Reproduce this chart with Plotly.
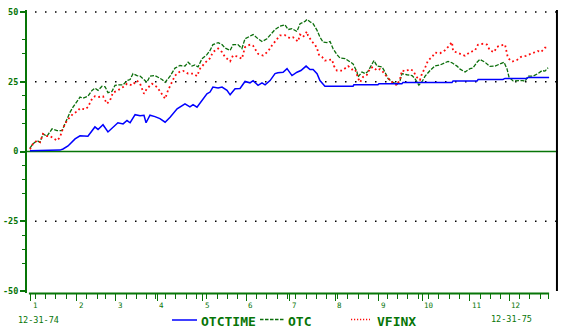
import numpy as np
import pandas as pd
import plotly.graph_objects as go

# ---------------- data (trading-day index since 12-31-74, % change) ----------------
otctime_day = [0.5, 7.8, 15.0, 16.5, 18.9, 22.3, 24.7, 28.5, 30.5, 31.9, 33.4, 35.8, 38.2, 40.6,
               43.0, 45.5, 47.4, 48.9, 51.3, 53.7, 55.6, 56.6, 58.5, 60.9, 63.3, 65.8, 68.2, 71.6,
               74.0, 75.4, 77.8, 79.3, 81.2, 83.6, 86.0, 87.5, 88.9, 91.4, 93.3, 95.7, 97.2, 99.6,
               102.0, 104.4, 106.8, 108.3, 110.7, 112.6, 114.1, 116.5, 118.9, 120.3, 122.8, 124.7,
               127.1, 129.5, 131.4, 133.9, 135.8, 137.3, 139.2, 140.6, 143.0, 156.6, 157.0, 168.6,
               169.1, 180.2, 180.7, 204.4, 204.9, 216.5, 217.0, 229.0, 230.0, 240.6, 241.1, 251.3]
otctime_val = [0.3, 0.3, 0.5, 0.9, 2.0, 4.5, 5.6, 5.5, 7.7, 8.8, 7.9, 9.6, 7.0, 8.7,
               10.3, 9.9, 11.1, 10.3, 13.2, 12.8, 13.0, 10.3, 13.0, 12.5, 11.8, 10.5, 12.3, 15.3,
               16.5, 17.1, 16.0, 16.8, 15.9, 18.3, 20.7, 21.3, 23.1, 22.8, 23.1, 21.9, 20.3, 22.5,
               22.6, 25.1, 24.6, 25.4, 23.7, 24.6, 23.9, 25.4, 27.9, 28.2, 28.4, 29.7,
               27.2, 28.4, 29.0, 30.6, 29.4, 29.4, 27.9, 25.4, 23.4, 23.4, 23.9, 23.9,
               24.3, 24.3, 24.7, 24.7, 25.3, 25.3, 25.8, 25.8, 26.2, 26.2, 26.5, 26.5]

otc_day = [0.5, 2.0, 3.9, 5.4, 6.8, 8.7, 11.2, 13.6, 16.0, 17.0, 18.4, 19.9, 21.3, 23.2, 24.7,
           26.1, 28.5, 30.5, 31.9, 33.4, 35.3, 36.8, 38.2, 40.1, 41.6, 43.5, 45.5, 47.4, 48.9,
           50.3, 52.2, 53.7, 55.1, 57.0, 58.5, 60.9, 62.4, 64.3, 65.8, 68.2, 70.6, 73.0, 75.4,
           76.9, 78.8, 80.2, 81.7, 83.6, 86.0, 87.5, 88.9, 91.4, 93.3, 94.7, 97.2, 98.6, 101.0,
           102.9, 104.4, 105.9, 108.3, 110.7, 112.6, 115.0, 116.5, 118.9, 121.3, 123.7, 125.2,
           127.1, 129.5, 131.0, 133.4, 134.3, 135.8, 137.3, 139.2, 140.6, 142.1, 144.0, 145.5,
           146.9, 148.8, 150.3, 152.7, 155.1, 156.6, 158.5, 159.0, 160.9, 162.4, 163.8, 165.8,
           166.7, 168.2, 170.6, 172.0, 173.5, 175.9, 177.8, 179.3, 180.2, 182.6, 185.1, 186.5,
           188.4, 189.9, 191.4, 193.8, 196.2, 198.6, 200.0, 202.5, 204.4, 206.8, 208.3, 210.7,
           213.1, 214.5, 216.5, 217.9, 220.3, 222.7, 225.2, 227.6, 229.5, 231.0, 231.9, 233.9,
           236.3, 238.7, 239.7, 241.1, 243.5, 245.9, 247.9, 249.3, 250.8]
otc_val = [1.2, 2.8, 3.9, 3.3, 6.3, 5.5, 8.1, 7.5, 7.5, 9.3, 11.7, 14.1, 15.9, 17.7, 19.5,
           19.1, 19.8, 21.9, 22.7, 21.9, 23.4, 23.2, 21.1, 21.5, 23.7, 23.9, 23.9, 25.4, 25.8,
           27.9, 27.2, 27.0, 26.1, 24.8, 27.0, 27.2, 26.6, 25.8, 24.8, 27.0, 29.9, 30.8, 30.6,
           32.0, 30.6, 31.0, 30.3, 33.2, 34.7, 36.2, 38.3, 39.0, 38.3, 37.1, 36.2, 38.3, 38.3,
           36.9, 40.4, 41.0, 41.9, 40.4, 39.4, 40.4, 41.6, 43.7, 44.9, 45.4, 43.7,
           44.0, 43.0, 45.8, 46.6, 47.3, 46.5, 45.8, 43.4, 41.0, 39.2, 39.0, 39.4,
           36.9, 34.7, 33.5, 33.3, 32.0, 31.4, 28.5, 26.7, 28.5, 27.9, 28.7, 31.8,
           32.6, 30.6, 30.3, 28.5, 26.1, 24.8, 24.0, 25.4, 27.9, 27.5, 27.2, 26.1,
           23.8, 25.0, 27.0, 29.0, 30.7, 31.0, 31.4, 32.3, 31.8, 30.6, 29.5, 28.5,
           29.7, 29.9, 32.0, 33.0, 32.0, 30.5, 30.6, 31.4, 32.0, 29.5, 26.7, 25.3,
           25.4, 25.4, 25.1, 27.0, 27.0, 27.9, 29.0, 28.8, 30.0]

vfinx_day = [0.5, 2.0, 3.9, 5.4, 6.8, 8.7, 10.2, 11.6, 13.6, 15.0, 16.5, 18.4, 19.9, 21.3, 23.2,
             24.7, 27.1, 28.5, 30.5, 31.9, 33.4, 35.8, 37.7, 39.2, 40.6, 43.0, 45.5, 47.4, 49.8,
             52.2, 53.7, 55.6, 57.0, 59.5, 61.9, 63.3, 64.8, 65.8, 67.2, 69.1, 70.6, 73.0, 74.5,
             76.9, 79.3, 81.2, 82.7, 85.1, 87.5, 88.9, 91.4, 93.3, 94.7, 97.2, 98.6, 101.0, 102.9,
             104.4, 106.8, 108.3, 110.7, 113.1, 115.5, 117.4, 119.8, 121.3, 123.7, 126.1, 127.6,
             130.0, 131.0, 132.4, 134.3, 134.8, 136.7, 138.2, 139.2, 140.1, 141.6, 143.0, 145.0,
             146.4, 147.4, 148.8, 151.3, 152.7, 154.2, 156.1, 157.6, 159.0, 160.0, 161.4, 163.3,
             164.8, 166.2, 168.2, 169.6, 171.1, 173.0, 175.4, 176.9, 177.8, 179.3, 180.2, 181.7,
             184.1, 185.5, 187.5, 188.9, 189.9, 191.4, 192.8, 194.7, 196.2, 198.6, 201.0, 202.5,
             204.4, 204.9, 207.3, 209.2, 210.7, 213.1, 215.5, 216.9, 219.4, 221.3, 222.7, 224.7,
             226.1, 228.0, 230.0, 231.4, 233.4, 235.8, 237.7, 240.1, 242.6, 244.5, 245.9, 247.4,
             249.3, 250.8]
vfinx_val = [0.8, 2.8, 3.9, 3.3, 6.3, 5.5, 5.5, 4.8, 3.9, 5.1, 8.4, 11.1, 12.3, 13.5, 14.3,
             15.5, 15.1, 15.9, 18.9, 19.8, 19.5, 19.8, 17.1, 18.3, 21.1, 21.9, 23.1, 24.3, 23.7,
             25.4, 24.3, 20.7, 22.5, 24.3, 23.1, 21.5, 20.1, 18.9, 21.9, 24.6, 27.2, 28.7, 28.9,
             27.9, 27.9, 27.0, 29.7, 31.8, 33.4, 35.6, 36.9, 35.6, 33.9, 32.3, 34.4, 34.0, 33.2,
             37.4, 38.3, 37.9, 35.0, 34.4, 35.8, 38.0, 40.4, 41.6, 41.7, 40.6, 40.9,
             39.4, 41.9, 41.0, 43.0, 41.6, 39.4, 38.3, 36.9, 34.7, 33.9, 32.6, 32.8,
             33.0, 30.6, 29.0, 29.0, 29.7, 30.6, 29.4, 29.5, 26.3, 24.8, 26.7, 27.5,
             29.7, 30.3, 29.0, 29.5, 28.5, 26.7, 24.9, 24.3, 23.7, 26.1, 29.0, 28.7,
             29.5, 29.0, 26.5, 25.6, 27.9, 30.0, 32.6, 33.8, 35.4, 35.2, 36.3, 37.5,
             39.2, 36.0, 35.3, 34.8, 34.3, 35.6, 36.2, 38.2, 38.6, 38.3, 36.2, 35.6,
             37.5, 38.0, 38.3, 33.5, 32.2, 32.8, 33.9, 34.3, 35.0, 35.6, 36.0, 35.6,
             37.2, 37.2]

series_names = ["OTCTIME", "OTC", "VFINX"]
month_labels = [str(m) for m in range(1, 13)]
y_tick_vals = [-50, -25, 0, 25, 50]
y_tick_text = ["-50", "-25", "0", "25", "50"]
y_minor_vals = [40, 35, 20, 15, 10, -5, -10, -15, -30, -35, -40]
start_label = "12-31-74"
end_label = "12-31-75"

# ---------------- trading calendar for tick positions ----------------
nyse_holidays = pd.to_datetime(["1975-01-01", "1975-02-17", "1975-03-28", "1975-05-26",
                                "1975-07-04", "1975-09-01", "1975-11-27", "1975-12-25"])
cal = pd.bdate_range("1974-12-31", "1975-12-31")
cal = cal[~cal.isin(nyse_holidays)]
tday = pd.Series(np.arange(len(cal)), index=cal)
s75 = tday[tday.index.year == 1975]
month_ticks = s75.groupby(s75.index.month).min().tolist()
week_start = s75.index - pd.to_timedelta(s75.index.weekday, unit="D")
week_ticks = [v for v in s75.groupby(week_start).min().tolist() if v not in month_ticks]

# ---------------- styling ----------------
GREEN = "#077507"
LGREEN = "#0b6e0b"
BLUE = "#0000ff"
RED = "#ff0a0a"
MONO = "DejaVu Sans Mono"

W, H = 568, 335
ML, MR, MT, MB = 27, 10, 10, 42
PW, PH = W - ML - MR, H - MT - MB


def px_x(px):
    return (px - ML) / PW


def px_y(py):
    return (H - MB - py) / PH


fig = go.Figure()
fig.add_trace(go.Scatter(x=otc_day, y=otc_val, mode="lines", name=series_names[1],
                         line=dict(color=LGREEN, width=1.3, dash="4px,1.5px")))
fig.add_trace(go.Scatter(x=vfinx_day, y=vfinx_val, mode="lines", name=series_names[2],
                         line=dict(color=RED, width=1.8, dash="1.8px,2.8px")))
fig.add_trace(go.Scatter(x=otctime_day, y=otctime_val, mode="lines", name=series_names[0],
                         line=dict(color=BLUE, width=1.5)))

shapes = []
# zero line
shapes.append(dict(type="line", xref="paper", yref="y", x0=0, x1=1, y0=0, y1=0,
                   line=dict(color=GREEN, width=1.6), layer="below"))
# dotted grid lines
for gv in [50, 25, -25]:
    shapes.append(dict(type="line", xref="x", yref="y", x0=2.95, x1=254.6, y0=gv, y1=gv,
                       line=dict(color="black", width=1.5, dash="1.5px,8.5px"), layer="below"))
# right frame line
shapes.append(dict(type="line", xref="x", yref="paper", x0=255.1, x1=255.1,
                   y0=px_y(291), y1=px_y(10), line=dict(color="black", width=2)))
# x axis line
shapes.append(dict(type="line", xref="x", yref="paper", x0=0, x1=251.3,
                   y0=px_y(293.5), y1=px_y(293.5), line=dict(color=GREEN, width=2)))
# legend samples
shapes.append(dict(type="line", xref="paper", yref="paper", x0=px_x(172), x1=px_x(197),
                   y0=px_y(320), y1=px_y(320), line=dict(color=BLUE, width=1.5)))
shapes.append(dict(type="line", xref="paper", yref="paper", x0=px_x(260), x1=px_x(285),
                   y0=px_y(319.5), y1=px_y(319.5), line=dict(color=LGREEN, width=1.3, dash="3.5px,1.5px")))
shapes.append(dict(type="line", xref="paper", yref="paper", x0=px_x(351), x1=px_x(370),
                   y0=px_y(319.5), y1=px_y(319.5), line=dict(color=RED, width=1.6, dash="1.2px,1.8px")))

annotations = []
for mt, lab in zip(month_ticks, month_labels):
    annotations.append(dict(x=mt, xref="x", y=px_y(305), yref="paper", text=lab,
                            showarrow=False, xanchor="left", yanchor="middle", xshift=0,
                            font=dict(family=MONO, size=7.5, color=GREEN)))
legend_items = [(199, series_names[0]), (286, series_names[1]), (375, series_names[2])]
for lx, txt in legend_items:
    annotations.append(dict(x=px_x(lx), xref="paper", y=px_y(321), yref="paper", text=txt,
                            showarrow=False, xanchor="left", yanchor="middle",
                            font=dict(family=MONO, size=13, color=GREEN, weight="bold")))
annotations.append(dict(x=px_x(16), xref="paper", y=px_y(320), yref="paper", text=start_label,
                        showarrow=False, xanchor="left", yanchor="middle",
                        font=dict(family=MONO, size=8.5, color=GREEN)))
annotations.append(dict(x=px_x(489), xref="paper", y=px_y(319), yref="paper", text=end_label,
                        showarrow=False, xanchor="left", yanchor="middle",
                        font=dict(family=MONO, size=8.5, color=GREEN)))

fig.update_layout(
    width=W, height=H, margin=dict(l=ML, r=MR, t=MT, b=MB, pad=0, autoexpand=False),
    paper_bgcolor="white", plot_bgcolor="white", showlegend=False,
    shapes=shapes, annotations=annotations,
    xaxis=dict(range=[-0.918, 255.6], showgrid=False, zeroline=False, showline=False,
               automargin=False,
               tickmode="array", tickvals=month_ticks, showticklabels=False,
               ticks="outside", ticklen=7, tickwidth=1, tickcolor=GREEN,
               minor=dict(tickmode="array", tickvals=week_ticks, ticks="outside",
                          ticklen=4.5, tickwidth=1, tickcolor=GREEN, showgrid=False)),
    yaxis=dict(range=[-50.7, 50.7], showgrid=False, zeroline=False, showline=True,
               automargin=False,
               linecolor=GREEN, linewidth=2,
               tickmode="array", tickvals=y_tick_vals, ticktext=y_tick_text,
               ticks="outside", ticklen=5, tickwidth=1.5, tickcolor=GREEN,
               tickfont=dict(family=MONO, size=8.5, color=GREEN, weight="bold"),
               minor=dict(tickmode="array", tickvals=y_minor_vals, ticks="outside",
                          ticklen=3, tickwidth=1, tickcolor=GREEN, showgrid=False)),
)

fig.write_html("out.html")
